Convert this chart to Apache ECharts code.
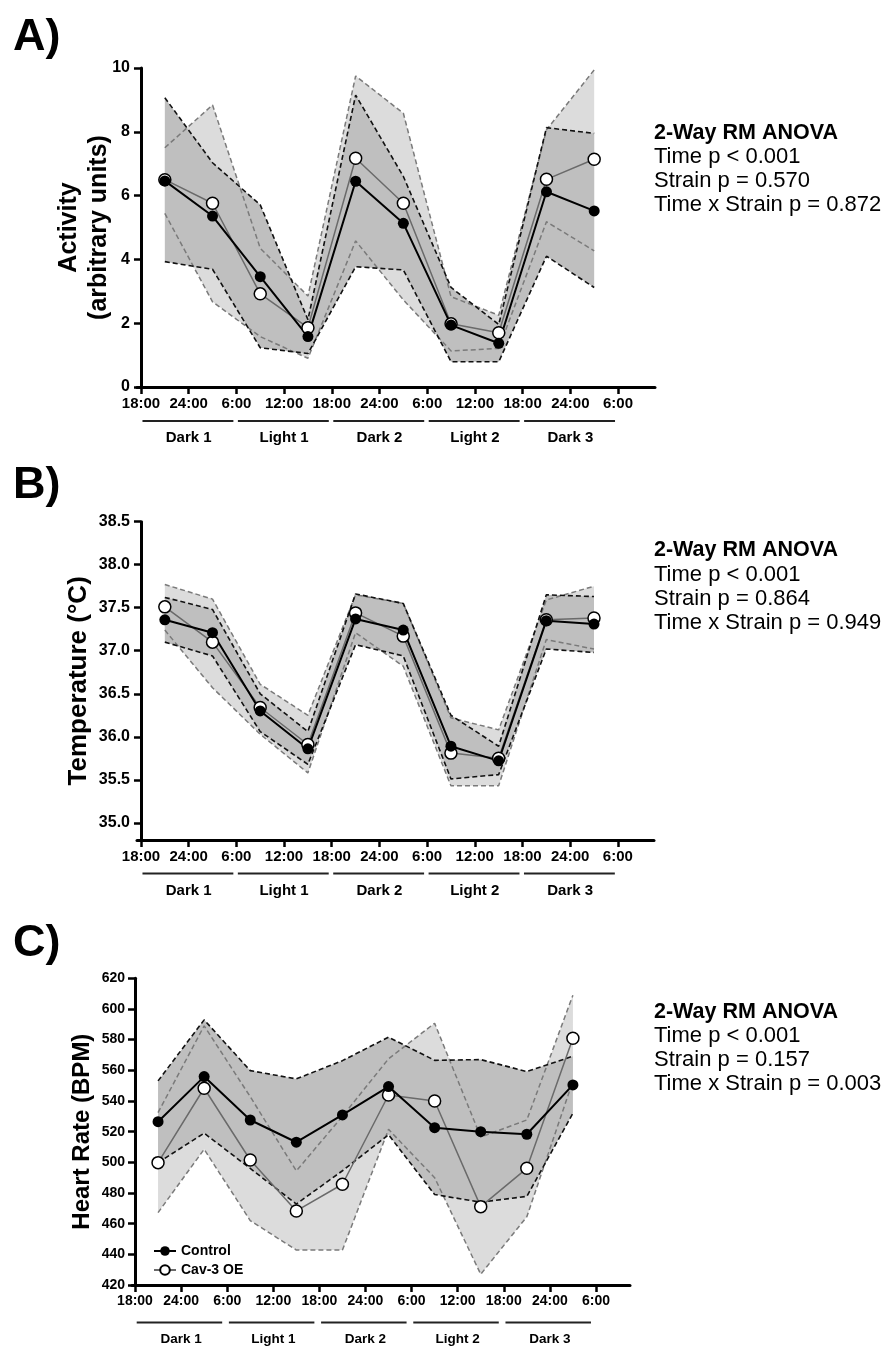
<!DOCTYPE html>
<html>
<head>
<meta charset="utf-8">
<script src="https://cdn.jsdelivr.net/npm/echarts@6/dist/echarts.min.js"></script>
<style>
  html, body { margin: 0; padding: 0; background: #fff; }
  #main { width: 887px; height: 1349px; }
</style>
</head>
<body>
<div id="main"></div>
<script>
// sample times, hours after the first 18:00
const hours = [3, 9, 15, 21, 27, 33, 39, 45, 51, 57];
const tickHours = [0, 6, 12, 18, 24, 30, 36, 42, 48, 54, 60];
const tickLabels = ['18:00', '24:00', '6:00', '12:00', '18:00', '24:00', '6:00', '12:00', '18:00', '24:00', '6:00'];
const phases = ['Dark 1', 'Light 1', 'Dark 2', 'Light 2', 'Dark 3'];
const phaseStart = [0, 12, 24, 36, 48];
const phaseEnd = [12, 24, 36, 48, 60];
const tempTicks = [35.0, 35.5, 36.0, 36.5, 37.0, 37.5, 38.0, 38.5];

// A) activity
const actCtrlMean  = [6.46, 5.36, 3.46, 1.58, 6.45, 5.13, 1.94, 1.37, 6.12, 5.52];
const actCtrlUpper = [9.07, 7.03, 5.71, 2.11, 9.15, 6.60, 3.12, 1.96, 8.13, 7.95];
const actCtrlLower = [3.93, 3.69, 1.23, 1.05, 3.77, 3.67, 0.79, 0.79, 4.10, 3.12];
const actCavMean   = [6.50, 5.76, 2.92, 1.86, 7.17, 5.76, 1.98, 1.70, 6.51, 7.14];
const actCavUpper  = [7.50, 8.84, 4.35, 2.85, 9.75, 8.58, 2.83, 2.25, 8.06, 9.94];
const actCavLower  = [5.44, 2.67, 1.58, 0.90, 4.58, 2.73, 1.13, 1.21, 5.18, 4.27];

// B) temperature
const tmpCtrlMean  = [37.36, 37.21, 36.30, 35.86, 37.37, 37.24, 35.89, 35.72, 37.35, 37.31];
const tmpCtrlUpper = [37.62, 37.48, 36.50, 36.06, 37.66, 37.55, 36.25, 35.89, 37.65, 37.63];
const tmpCtrlLower = [37.10, 36.94, 36.06, 35.68, 37.07, 36.94, 35.51, 35.56, 37.02, 36.98];
const tmpCavMean   = [37.51, 37.10, 36.34, 35.91, 37.44, 37.17, 35.81, 35.75, 37.36, 37.38];
const tmpCavUpper  = [37.77, 37.60, 36.61, 36.25, 37.65, 37.55, 36.22, 36.08, 37.59, 37.75];
const tmpCavLower  = [37.24, 36.57, 36.03, 35.58, 37.21, 36.82, 35.43, 35.43, 37.13, 37.02];

// C) heart rate
const hrCtrlMean  = [526.5, 555.9, 527.6, 513.1, 530.9, 549.4, 522.6, 520.0, 518.3, 550.5];
const hrCtrlUpper = [553.1, 592.9, 559.8, 554.4, 566.3, 581.6, 566.5, 567.0, 559.2, 569.2];
const hrCtrlLower = [499.8, 519.0, 496.0, 472.8, 494.5, 518.0, 479.0, 474.0, 477.8, 532.0];
const hrCavMean   = [499.8, 548.3, 501.5, 468.3, 485.7, 543.9, 540.0, 471.1, 496.1, 580.9];
const hrCavUpper  = [532.4, 589.0, 542.8, 494.4, 530.0, 567.5, 590.7, 516.5, 527.6, 609.0];
const hrCavLower  = [467.2, 508.5, 462.0, 442.8, 442.8, 521.5, 490.0, 427.0, 464.5, 553.0];

const anovaA = ['Time p < 0.001', 'Strain p = 0.570', 'Time x Strain p = 0.872'];
const anovaB = ['Time p < 0.001', 'Strain p = 0.864', 'Time x Strain p = 0.949'];
const anovaC = ['Time p < 0.001', 'Strain p = 0.157', 'Time x Strain p = 0.003'];

const FONT = '"Liberation Sans", Arial, Helvetica, sans-serif';
const DARK = '#bfbfbf';
const LIGHT = '#dcdcdc';

const panels = [
  { name: 'A', grid: { left: 137, top: 68, width: 518, height: 319 }, xMin: -0.5, xMax: 64.65,
    yAxis: { min: 0, max: 10, interval: 2 }, title: 'Activity\n(arbitrary units)', nameGap: 23, titleSize: 25,
    yLabelSize: 16, xLabelSize: 15, phaseLine: 34, phaseText: 51, phaseSize: 15, phaseTrim: [1.5, 3],
    ctrl: [actCtrlMean, actCtrlUpper, actCtrlLower], cav: [actCavMean, actCavUpper, actCavLower],
    letterY: 38, anova: anovaA, anovaY: 133 },
  { name: 'B', grid: { left: 137, top: 521.7, width: 517, height: 318.3 }, xMin: -0.5, xMax: 64.55,
    yAxis: { min: 34.8, max: 38.5, ticks: tempTicks }, title: 'Temperature (°C)', nameGap: 43, titleSize: 26,
    yLabelSize: 16, xLabelSize: 15, phaseLine: 33.5, phaseText: 50.5, phaseSize: 15, phaseTrim: [1.5, 3],
    ctrl: [tmpCtrlMean, tmpCtrlUpper, tmpCtrlLower], cav: [tmpCavMean, tmpCavUpper, tmpCavLower],
    letterY: 486, anova: anovaB, anovaY: 550.5 },
  { name: 'C', grid: { left: 132, top: 978.3, width: 498, height: 306.7 }, xMin: -0.39, xMax: 64.43,
    yAxis: { min: 420, max: 620, interval: 20 }, title: 'Heart Rate (BPM)', nameGap: 35, titleSize: 24,
    yLabelSize: 14, xLabelSize: 14, phaseLine: 37.5, phaseText: 54, phaseSize: 13.5, phaseTrim: [1.7, 5],
    ctrl: [hrCtrlMean, hrCtrlUpper, hrCtrlLower], cav: [hrCavMean, hrCavUpper, hrCavLower],
    letterY: 944, anova: anovaC, anovaY: 1012 }
];

function pts(ys) {
  return hours.map((h, i) => [h, ys[i]]);
}

const grids = [], xAxes = [], yAxes = [], series = [], graphics = [];

panels.forEach((p, k) => {
  grids.push(p.grid);
  xAxes.push({
    type: 'value', gridIndex: k, min: p.xMin, max: p.xMax,
    axisLine: { lineStyle: { color: '#000', width: 3 } },
    axisTick: { show: true, length: 7, customValues: tickHours, lineStyle: { color: '#000', width: 2.5 } },
    axisLabel: {
      customValues: tickHours, margin: 9, color: '#000', fontFamily: FONT, fontWeight: 'bold', fontSize: p.xLabelSize,
      formatter: v => tickLabels[tickHours.indexOf(v)]
    },
    splitLine: { show: false }
  });
  const ya = {
    type: 'value', gridIndex: k, min: p.yAxis.min, max: p.yAxis.max,
    name: p.title, nameLocation: 'middle', nameGap: p.nameGap, nameMoveOverlap: false,
    nameTextStyle: { fontFamily: FONT, fontWeight: 'bold', fontSize: p.titleSize, color: '#000', lineHeight: 30 },
    axisLine: { show: true, lineStyle: { color: '#000', width: 3 } },
    axisTick: { show: true, length: 7, lineStyle: { color: '#000', width: 2.5 } },
    axisLabel: { margin: 7, color: '#000', fontFamily: FONT, fontWeight: 'bold', fontSize: p.yLabelSize },
    splitLine: { show: false }
  };
  if (p.yAxis.interval) ya.interval = p.yAxis.interval;
  if (p.yAxis.ticks) {
    ya.axisTick.customValues = p.yAxis.ticks;
    ya.axisLabel.customValues = p.yAxis.ticks;
    ya.axisLabel.formatter = v => v.toFixed(1);
  }
  yAxes.push(ya);

  const ax = { xAxisIndex: k, yAxisIndex: k };
  const last = k === 2;
  const [cMean, cUp, cLo] = p.ctrl;
  const [oMean, oUp, oLo] = p.cav;

  // shaded band between lower and upper bound, drawn as one polygon
  const band = (lo, up, color) => Object.assign({
    type: 'custom', silent: true,
    data: hours.map((h, i) => [h, lo[i], up[i]]),
    encode: { x: 0, y: [1, 2] },
    renderItem: (params, api) => {
      if (params.dataIndex !== 0) return null;
      const top = hours.map((h, i) => api.coord([h, up[i]]));
      const bottom = hours.map((h, i) => api.coord([h, lo[i]])).reverse();
      return { type: 'polygon', shape: { points: top.concat(bottom) }, style: { fill: color } };
    }
  }, ax);
  series.push(band(oLo, oUp, LIGHT));
  series.push(band(cLo, cUp, DARK));

  const dashed = (ys, color, w) => Object.assign({
    type: 'line', data: pts(ys), symbol: 'none', silent: true,
    lineStyle: { color, width: w, type: [5, 3] }
  }, ax);
  series.push(dashed(oUp, '#7a7a7a', 1.5), dashed(oLo, '#7a7a7a', 1.5));
  series.push(dashed(cUp, '#111', 1.6), dashed(cLo, '#111', 1.6));

  series.push(Object.assign({
    name: last ? 'Cav-3 OE' : 'Cav-3 OE ' + p.name, type: 'line', data: pts(oMean),
    symbol: 'circle', symbolSize: 12,
    lineStyle: { color: '#6a6a6a', width: 1.5 },
    itemStyle: { color: '#fff', borderColor: '#000', borderWidth: 1.5 }
  }, ax));
  series.push(Object.assign({
    name: last ? 'Control' : 'Control ' + p.name, type: 'line', data: pts(cMean),
    symbol: 'circle', symbolSize: 11,
    lineStyle: { color: '#000', width: 2 },
    itemStyle: { color: '#000' }
  }, ax));

  // Dark / Light bars under the time axis
  series.push(Object.assign({
    type: 'custom', clip: false, silent: true,
    data: phases.map((ph, i) => [phaseStart[i], phaseEnd[i], p.yAxis.min]),
    encode: { x: [0, 1], y: 2 },
    renderItem: (params, api) => {
      const s = api.coord([api.value(0), api.value(2)]);
      const e = api.coord([api.value(1), api.value(2)]);
      return {
        type: 'group',
        children: [
          { type: 'line', shape: { x1: s[0] + p.phaseTrim[0], y1: s[1] + p.phaseLine, x2: e[0] - p.phaseTrim[1], y2: s[1] + p.phaseLine },
            style: { stroke: '#222', lineWidth: 2 } },
          { type: 'text', x: (s[0] + e[0]) / 2, y: s[1] + p.phaseText,
            style: { text: phases[params.dataIndex], fill: '#000', font: 'bold ' + p.phaseSize + 'px ' + FONT,
              align: 'center', verticalAlign: 'middle' } }
        ]
      };
    }
  }, ax));

  graphics.push({ type: 'text', x: 13, y: p.letterY,
    style: { text: p.name + ')', fill: '#000', font: 'bold 45px ' + FONT, align: 'left', verticalAlign: 'middle' } });
  graphics.push({ type: 'text', x: 654, y: p.anovaY,
    style: { text: '2-Way RM ANOVA', fill: '#000', font: 'bold 21.5px ' + FONT, align: 'left', verticalAlign: 'middle' } });
  p.anova.forEach((line, j) => {
    graphics.push({ type: 'text', x: 654, y: p.anovaY + 24 * (j + 1),
      style: { text: line, fill: '#000', font: '22px ' + FONT, align: 'left', verticalAlign: 'middle' } });
  });
});

const chart = echarts.init(document.getElementById('main'), null, { renderer: 'canvas' });
chart.setOption({
  backgroundColor: '#fff',
  animation: false,
  grid: grids,
  xAxis: xAxes,
  yAxis: yAxes,
  legend: {
    data: ['Control', 'Cav-3 OE'], orient: 'vertical', left: 148, top: 1239,
    itemWidth: 22, itemHeight: 12, itemGap: 5,
    textStyle: { fontFamily: FONT, fontWeight: 'bold', fontSize: 14, color: '#000' }
  },
  graphic: graphics,
  series
});
</script>
</body>
</html>
